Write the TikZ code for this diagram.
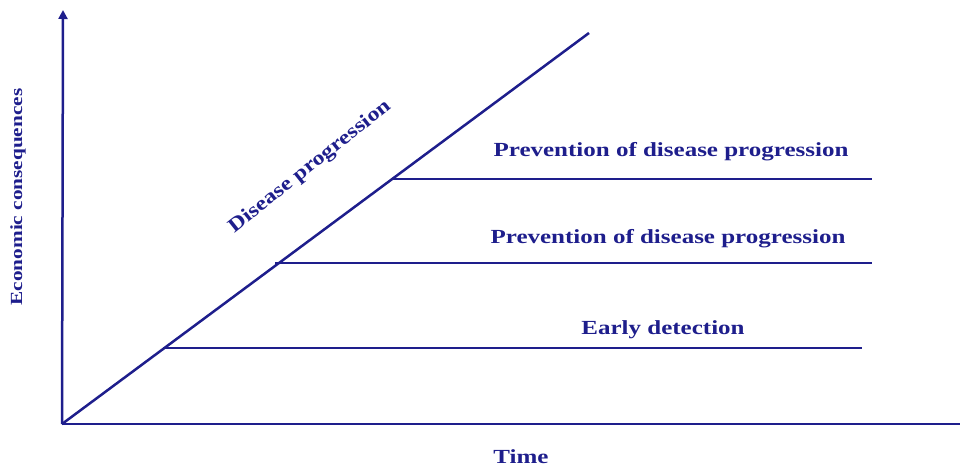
\documentclass[tikz,border=0pt]{standalone}
\usepackage{fontspec}
\usepackage{graphicx}
\setmainfont{Liberation Serif}
\usetikzlibrary{arrows.meta}
\definecolor{navy}{RGB}{30,30,140}
\newcommand{\wide}[1]{\scalebox{1.25}[1]{#1}}
\begin{document}
\begin{tikzpicture}[x=1pt,y=-1pt,
  axis/.style={draw=navy,line width=2.5pt},
  curve/.style={draw=navy,line width=2.5pt},
  lbl/.style={text=navy,font=\fontsize{20}{24}\selectfont\bfseries,inner sep=0pt,anchor=base}]
\useasboundingbox (0,0) rectangle (961,468);
\coordinate (O) at (62,424);
\coordinate (Ytop) at (63,10);
\coordinate (Xend) at (960,424);
\coordinate (Dend) at (589,33);
\coordinate (a1) at (163,348);
\coordinate (b1) at (862,348);
\coordinate (a2) at (275,263);
\coordinate (b2) at (872,263);
\coordinate (a3) at (392,179);
\coordinate (b3) at (872,179);
\draw[axis,-{Triangle[length=9pt,width=9pt]}] (O) -- (Ytop);
\draw[axis] (O) -- (Xend);
\draw[curve] (O) -- (Dend);
\draw[curve] (a1) -- (b1);
\draw[curve] (a2) -- (b2);
\draw[curve] (a3) -- (b3);
\node[lbl] (t3) at (671,157) {\wide{Prevention of disease progression}};
\node[lbl] (t2) at (668,243) {\wide{Prevention of disease progression}};
\node[lbl] (t1) at (663,334) {\wide{Early detection}};
\node[lbl] (time) at (521,463) {\wide{Time}};
\node[text=navy,font=\fontsize{17}{20}\selectfont\bfseries,inner sep=0pt,rotate=90] (ec) at (18,197) {\wide{Economic consequences}};
\node[text=navy,font=\fontsize{20}{24}\selectfont\bfseries,inner sep=0pt,rotate=38.5] (dp) at (310,167) {\scalebox{1.2}[1]{Disease progression}};
\end{tikzpicture}
\end{document}
